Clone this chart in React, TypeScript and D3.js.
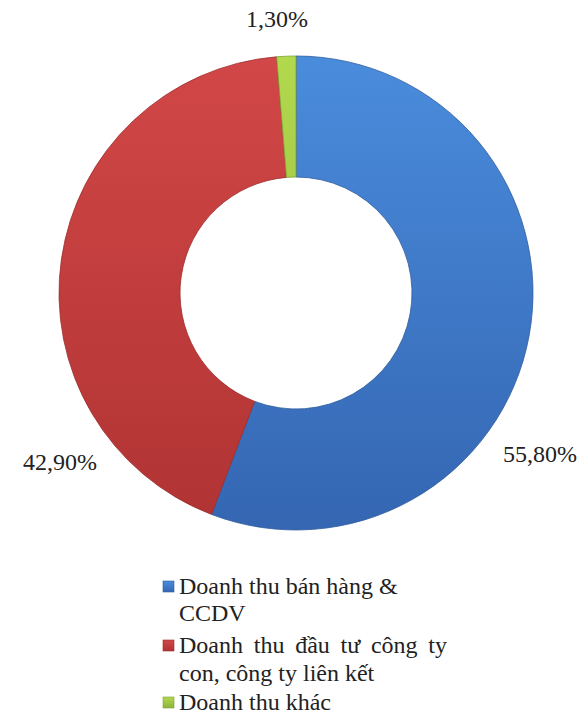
import React, { useLayoutEffect, useRef, useState } from "react";
import * as d3 from "d3";

const categories = [
  "Doanh thu bán hàng & CCDV",
  "Doanh thu đầu tư công ty con, công ty liên kết",
  "Doanh thu khác",
];
const values = [55.8, 42.9, 1.3];
const valueLabels = ["55,80%", "42,90%", "1,30%"];
const legendLines = [
  ["Doanh thu bán hàng &", "CCDV"],
  ["Doanh thu đầu tư công ty", "con, công ty liên kết"],
  ["Doanh thu khác"],
];
const colorsTop = ["#4A8CDC", "#D24747", "#B2D84E"];
const colorsBottom = ["#3466B2", "#B03333", "#8DB53A"];
const strokes = ["#2F5D9E", "#9C2C2C", "#7EA232"];

const W = 579;
const H = 715;
const cx = 296;
const cy = 293;
const R = 237;
const r = 116;

const labelPos = [
  { x: 540, y: 462 },
  { x: 60, y: 470 },
  { x: 277, y: 27 },
];

const FONT = "Liberation Serif, Times New Roman, serif";

export default function App() {
  const pie = d3
    .pie<number>()
    .sort(null)
    .startAngle(0)
    .endAngle(2 * Math.PI)
    .value((d) => d);
  const arcs = pie(values);
  const arc = d3.arc<d3.PieArcDatum<number>>().innerRadius(r).outerRadius(R);

  const justRef = useRef<SVGTextElement>(null);
  const [ws, setWs] = useState(0);
  useLayoutEffect(() => {
    if (justRef.current) {
      const natural = justRef.current.getComputedTextLength();
      const target = 447 - 179;
      const spaces = legendLines[1][0].split(" ").length - 1;
      setWs(Math.max(0, (target - natural) / spaces));
    }
  }, []);

  const legendX = 179;
  const sq = 11;
  const lineYs = [[594, 621], [653, 681], [710]];

  return (
    <svg
      width={W}
      height={H}
      fontFamily={FONT}
      style={{ position: "absolute", left: 0, top: 0, background: "#fff" }}
    >
      <defs>
        {values.map((_, i) => (
          <linearGradient
            key={i}
            id={`g${i}`}
            gradientUnits="userSpaceOnUse"
            x1={0}
            y1={-R}
            x2={0}
            y2={R}
          >
            <stop offset="0" stopColor={colorsTop[i]} />
            <stop offset="1" stopColor={colorsBottom[i]} />
          </linearGradient>
        ))}
        {values.map((_, i) => (
          <linearGradient key={"l" + i} id={`lg${i}`} x1="0" y1="0" x2="0" y2="1">
            <stop offset="0" stopColor={colorsTop[i]} />
            <stop offset="1" stopColor={colorsBottom[i]} />
          </linearGradient>
        ))}
      </defs>
      <g transform={`translate(${cx},${cy})`}>
        {arcs.map((a, i) => (
          <path
            key={i}
            d={arc(a) || ""}
            fill={`url(#g${i})`}
            stroke={strokes[i]}
            strokeWidth={0.8}
          />
        ))}
      </g>
      {valueLabels.map((t, i) => (
        <text
          key={i}
          x={labelPos[i].x}
          y={labelPos[i].y}
          textAnchor="middle"
          fontSize={24}
          fontFamily={FONT}
          fill="#222"
        >
          {t}
        </text>
      ))}
      <g>
        {legendLines.map((lines, i) => (
          <g key={i}>
            <rect
              x={legendX - 16}
              y={lineYs[i][0] - 13}
              width={sq}
              height={sq}
              fill={`url(#lg${i})`}
              stroke={strokes[i]}
              strokeWidth={0.6}
            />
            {lines.map((ln, j) => (
              <text
                key={j}
                ref={i === 1 && j === 0 ? justRef : undefined}
                x={legendX}
                y={lineYs[i][j]}
                fontSize={24}
                fontFamily={FONT}
                fill="#222"
                wordSpacing={i === 1 && j === 0 ? ws : undefined}
              >
                {ln}
              </text>
            ))}
          </g>
        ))}
      </g>
      <title>{categories.join("; ")}</title>
    </svg>
  );
}
